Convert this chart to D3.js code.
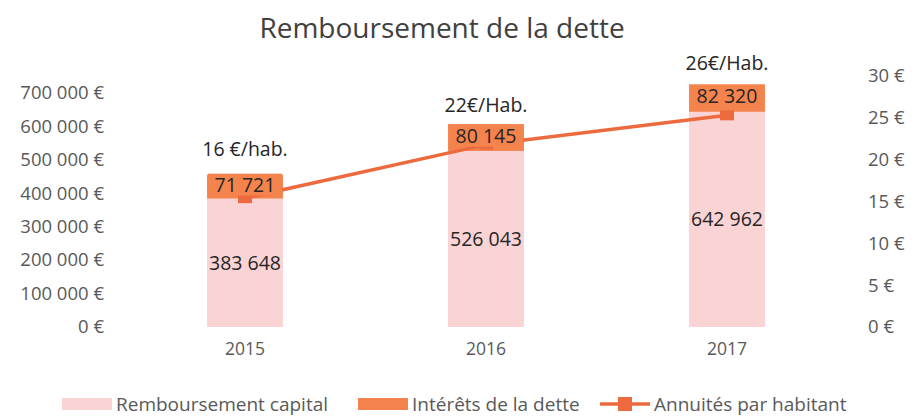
<!DOCTYPE html>
<html>
<head>
<meta charset="utf-8">
<script src="https://cdn.jsdelivr.net/npm/d3@7"></script>
<style>
  body { margin: 0; background: #fff; }
  text { font-family: "Open Sans", Lato, sans-serif; }
</style>
</head>
<body>
<svg id="chart" width="915" height="419"></svg>
<script>
const years = ['2015', '2016', '2017'];
const capital = [383648, 526043, 642962];
const interets = [71721, 80145, 82320];
const annuites = [15.4, 21.8, 25.3];
const annuiteLabels = ['16 €/hab.', '22€/Hab.', '26€/Hab.'];
const leftTicks = [0, 100000, 200000, 300000, 400000, 500000, 600000, 700000];
const rightTicks = [0, 5, 10, 15, 20, 25, 30];

const pink = '#fad3d5';
const orange = '#f4834d';
const lineColor = '#ec6a3e';
const axisGrey = '#595959';
const font = '"Open Sans", Lato, sans-serif';

const svg = d3.select('#chart');

const x = d3.scaleBand()
  .domain(years)
  .range([124.5, 847.5])
  .paddingInner(0.685)
  .paddingOuter(0.3425);

const y = d3.scaleLinear().domain([0, 750000]).range([327, 76]);
const y2 = d3.scaleLinear().domain([0, 30]).range([327, 76]);

const fmt = (v) => d3.format(',')(v).replace(/,/g, ' ');

// title
svg.append('text')
  .attr('x', 442).attr('y', 38)
  .attr('text-anchor', 'middle')
  .attr('font-size', 28)
  .attr('fill', '#404040')
  .text('Remboursement de la dette');

// left axis
const leftAxis = d3.axisLeft(y)
  .tickValues(leftTicks)
  .tickSize(0)
  .tickPadding(0)
  .tickFormat((d) => `${fmt(d)} €`);
const gl = svg.append('g').attr('transform', 'translate(104,0)').call(leftAxis);
gl.select('.domain').remove();
gl.selectAll('text').attr('font-size', 18.5).attr('fill', axisGrey).attr('font-family', font);

// right axis
const rightAxis = d3.axisRight(y2)
  .tickValues(rightTicks)
  .tickSize(0)
  .tickPadding(0)
  .tickFormat((d) => `${d} €`);
const gr = svg.append('g').attr('transform', 'translate(868,0)').call(rightAxis);
gr.select('.domain').remove();
gr.selectAll('text').attr('font-size', 18.5).attr('fill', axisGrey).attr('font-family', font);

// x axis labels
const gx = svg.append('g').attr('transform', 'translate(0,343)')
  .call(d3.axisBottom(x).tickSize(0).tickPadding(0));
gx.select('.domain').remove();
gx.selectAll('text').attr('font-size', 17.5).attr('fill', axisGrey).attr('font-family', font);

// stacked bars
const rows = years.map((yr, i) => ({ year: yr, capital: capital[i], interets: interets[i] }));
const stacked = d3.stack().keys(['capital', 'interets'])(rows);
const colors = { capital: pink, interets: orange };

svg.append('g').selectAll('g')
  .data(stacked)
  .join('g')
  .attr('fill', (s) => colors[s.key])
  .selectAll('rect')
  .data((s) => s)
  .join('rect')
  .attr('x', (d) => x(d.data.year))
  .attr('width', x.bandwidth())
  .attr('y', (d) => y(d[1]))
  .attr('height', (d) => y(d[0]) - y(d[1]));

// line
const pts = years.map((yr, i) => [x(yr) + x.bandwidth() / 2, y2(annuites[i])]);
svg.append('path')
  .attr('d', d3.line()(pts))
  .attr('fill', 'none')
  .attr('stroke', lineColor)
  .attr('stroke-width', 3.5);
svg.append('g').selectAll('rect')
  .data(pts)
  .join('rect')
  .attr('x', (d) => d[0] - 7)
  .attr('y', (d) => d[1] - 5)
  .attr('width', 14)
  .attr('height', 10)
  .attr('fill', lineColor);

// interest labels with orange box
const intLayer = svg.append('g');
stacked[1].forEach((d) => {
  const cx = x(d.data.year) + x.bandwidth() / 2;
  const cy = (y(d[0]) + y(d[1])) / 2 - 2;
  intLayer.append('rect')
    .attr('x', cx - 37).attr('y', cy - 11)
    .attr('width', 74).attr('height', 22)
    .attr('fill', orange);
  intLayer.append('text')
    .attr('x', cx).attr('y', cy + 7)
    .attr('text-anchor', 'middle')
    .attr('font-size', 19.5)
    .attr('fill', '#262626')
    .text(fmt(d.data.interets));
});

// capital labels
svg.append('g').selectAll('text')
  .data(stacked[0])
  .join('text')
  .attr('x', (d) => x(d.data.year) + x.bandwidth() / 2)
  .attr('y', (d) => (y(d[0]) + y(d[1])) / 2 + 7)
  .attr('text-anchor', 'middle')
  .attr('font-size', 19.5)
  .attr('fill', '#262626')
  .text((d) => fmt(d.data.capital));

// per-inhabitant labels above bars
svg.append('g').selectAll('text')
  .data(stacked[1])
  .join('text')
  .attr('x', (d) => x(d.data.year) + x.bandwidth() / 2)
  .attr('y', (d, i) => y(d[1]) - [19, 12, 14][i])
  .attr('text-anchor', 'middle')
  .attr('font-size', 19.5)
  .attr('fill', '#262626')
  .text((d, i) => annuiteLabels[i]);

// legend
const lg = svg.append('g').attr('transform', 'translate(0,404)');
const legendItems = [
  { label: 'Remboursement capital', type: 'box', color: pink, x: 62 },
  { label: 'Intérêts de la dette', type: 'box', color: orange, x: 358 },
  { label: 'Annuités par habitant', type: 'line', color: lineColor, x: 600 }
];
legendItems.forEach((it) => {
  if (it.type === 'box') {
    lg.append('rect').attr('x', it.x).attr('y', -6).attr('width', 50).attr('height', 12).attr('fill', it.color);
  } else {
    lg.append('line').attr('x1', it.x).attr('x2', it.x + 50).attr('y1', 0).attr('y2', 0)
      .attr('stroke', it.color).attr('stroke-width', 3.5);
    lg.append('rect').attr('x', it.x + 18).attr('y', -7).attr('width', 14).attr('height', 14).attr('fill', it.color);
  }
  lg.append('text')
    .attr('x', it.x + 54).attr('y', 6.5)
    .attr('font-size', 19)
    .attr('fill', axisGrey)
    .text(it.label);
});
</script>
</body>
</html>
